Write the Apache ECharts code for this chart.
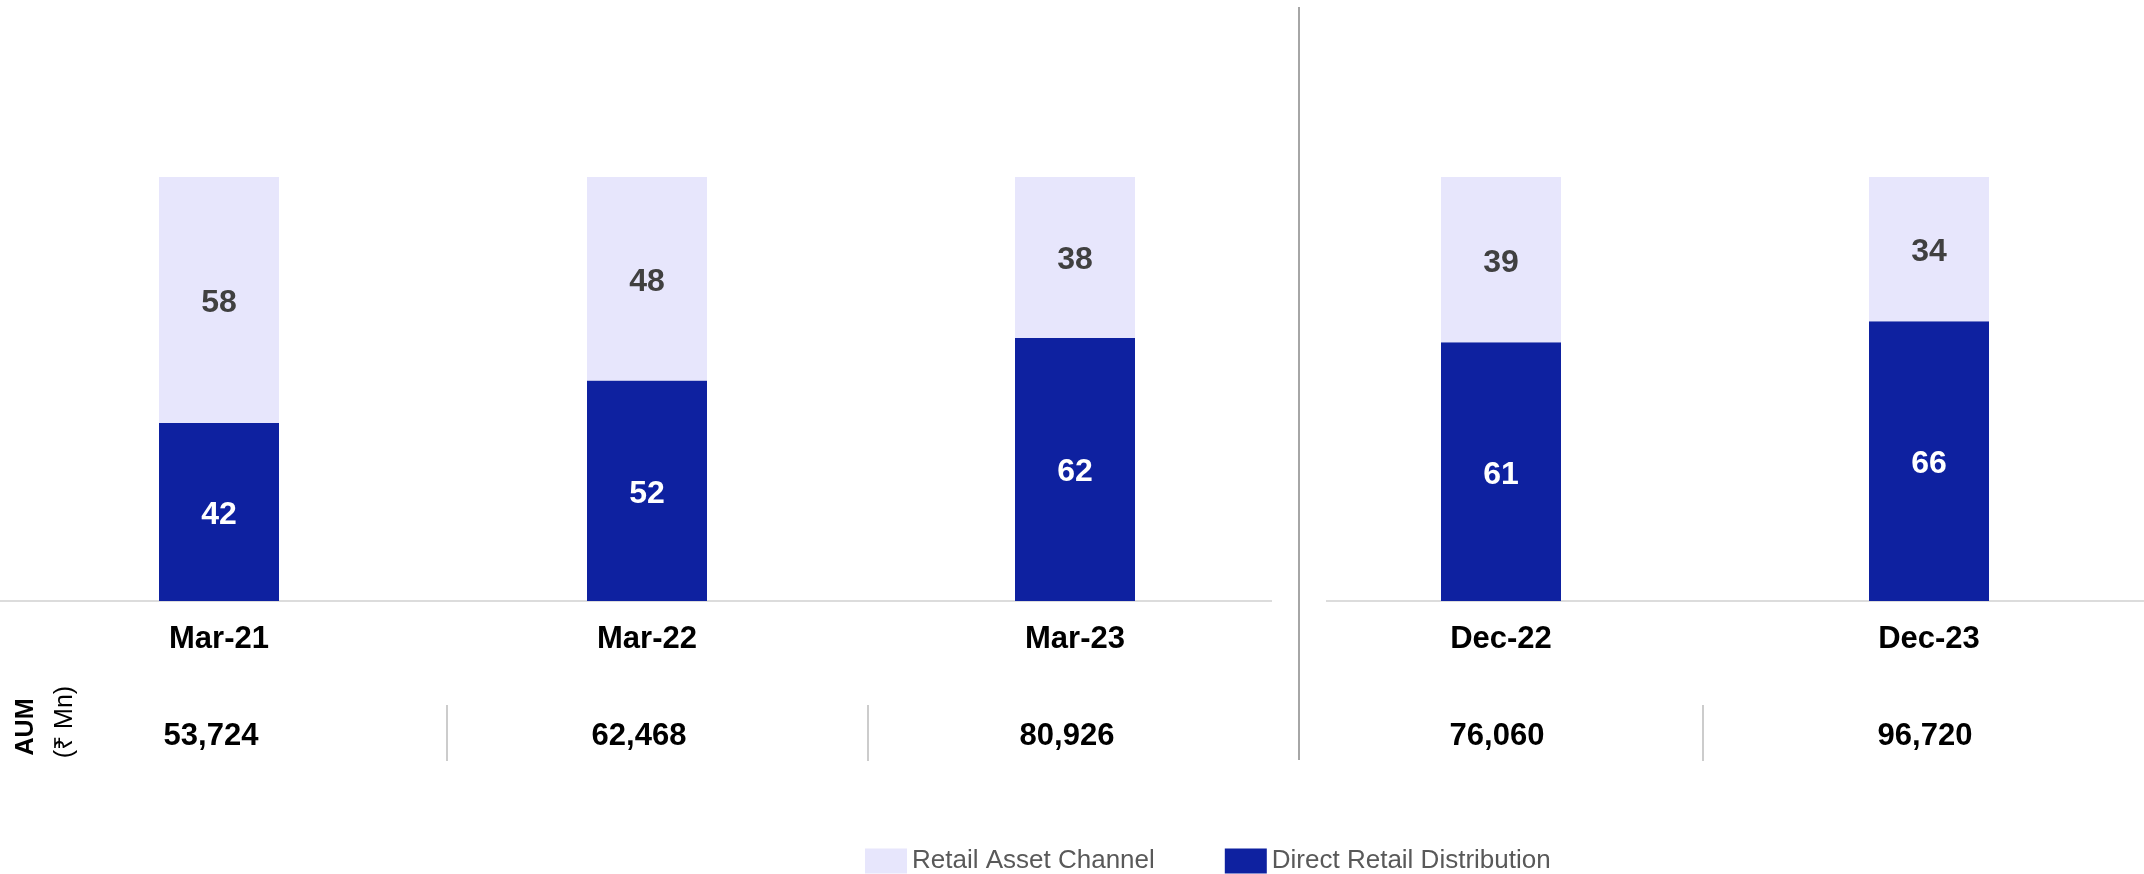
<!DOCTYPE html>
<html>
<head>
<meta charset="utf-8">
<title>AUM mix</title>
<script src="https://cdn.jsdelivr.net/npm/echarts@6/dist/echarts.min.js"></script>
<style>
    html, body { margin: 0; padding: 0; background: #fff; }
    #chart { width: 2144px; height: 874px; }
</style>
</head>
<body>
<div id="chart"></div>
<script>
var periodsFY = ["Mar-21", "Mar-22", "Mar-23"];
var periodsQ = ["Dec-22", "Dec-23"];
var directFY = [42, 52, 62];
var retailFY = [58, 48, 38];
var directQ = [61, 66];
var retailQ = [39, 34];
var aumFY = [53724, 62468, 80926];
var aumQ = [76060, 96720];
var seriesNames = ["Retail Asset Channel", "Direct Retail Distribution"];

var DARK = "#0E21A0";
var LIGHT = "#E7E6FC";
var FONT = "Liberation Sans, Arial, sans-serif";

function fmt(n) {
    return n.toLocaleString("en-US");
}

function barSeries(name, data, idx, color, labelColor) {
    return {
        name: name,
        type: "bar",
        stack: "s" + idx,
        xAxisIndex: idx * 2,
        yAxisIndex: idx,
        barWidth: 120,
        data: data,
        itemStyle: { color: color },
        label: {
            show: true,
            position: "inside",
            offset: [0, 3],
            color: labelColor,
            fontFamily: FONT,
            fontWeight: "bold",
            fontSize: 32
        },
        emphasis: { disabled: true }
    };
}

// two x axes per grid: the period labels, and the AUM row below it
function xAxes(cats, aum, gridIdx, shift) {
    return [
        {
            type: "category",
            gridIndex: gridIdx,
            data: cats,
            axisLine: { show: false },
            axisTick: { show: false },
            axisLabel: { margin: 23, color: "#000", fontFamily: FONT, fontWeight: "bold", fontSize: 31 }
        },
        {
            type: "category",
            gridIndex: gridIdx,
            position: "bottom",
            offset: 120,
            data: aum.map(fmt),
            axisLine: { show: false },
            axisTick: { show: false },
            axisLabel: {
                margin: 0, color: "#000", fontFamily: FONT, fontWeight: "bold", fontSize: 31,
                padding: [0, shift, 0, 0]
            }
        }
    ];
}

function yAxis(gridIdx) {
    return { type: "value", gridIndex: gridIdx, min: 0, max: 100, show: false };
}

var chart = echarts.init(document.getElementById("chart"));

var option = {
    animation: false,
    backgroundColor: "#fff",
    grid: [
        { left: 5, width: 1284, top: 177, height: 424 },
        { left: 1287, width: 856, top: 177, height: 424 }
    ],
    legend: {
        data: seriesNames,
        left: 860,
        top: 843,
        itemWidth: 42,
        itemHeight: 25,
        itemGap: 70,
        icon: "rect",
        textStyle: { color: "#595959", fontFamily: FONT, fontSize: 26 },
        selectedMode: false
    },
    xAxis: xAxes(periodsFY, aumFY, 0, 16).concat(xAxes(periodsQ, aumQ, 1, 8)),
    yAxis: [yAxis(0), yAxis(1)],
    series: [
        barSeries(seriesNames[1], directFY, 0, DARK, "#fff"),
        barSeries(seriesNames[0], retailFY, 0, LIGHT, "#404040"),
        barSeries(seriesNames[1], directQ, 1, DARK, "#fff"),
        barSeries(seriesNames[0], retailQ, 1, LIGHT, "#404040")
    ],
    graphic: [
        // baselines
        { type: "line", shape: { x1: 0, y1: 601, x2: 1272, y2: 601 }, style: { stroke: "#DCDCDC", lineWidth: 2 } },
        { type: "line", shape: { x1: 1326, y1: 601, x2: 2144, y2: 601 }, style: { stroke: "#DCDCDC", lineWidth: 2 } },
        // separator between yearly and quarterly
        { type: "line", shape: { x1: 1299, y1: 7, x2: 1299, y2: 760 }, style: { stroke: "#A6A6A6", lineWidth: 2 } },
        // AUM row dividers
        { type: "line", shape: { x1: 447, y1: 705, x2: 447, y2: 761 }, style: { stroke: "#999", lineWidth: 1 } },
        { type: "line", shape: { x1: 868, y1: 705, x2: 868, y2: 761 }, style: { stroke: "#999", lineWidth: 1 } },
        { type: "line", shape: { x1: 1703, y1: 705, x2: 1703, y2: 761 }, style: { stroke: "#999", lineWidth: 1 } },
        {
            type: "text", x: 26, y: 727, rotation: Math.PI / 2,
            style: { text: "AUM", fill: "#000", font: "bold 25px " + FONT, align: "center", verticalAlign: "middle" }
        },
        {
            type: "text", x: 65, y: 722, rotation: Math.PI / 2,
            style: { text: "(₹ Mn)", fill: "#000", font: "25px " + FONT, align: "center", verticalAlign: "middle" }
        }
    ]
};

chart.setOption(option);
</script>
</body>
</html>
